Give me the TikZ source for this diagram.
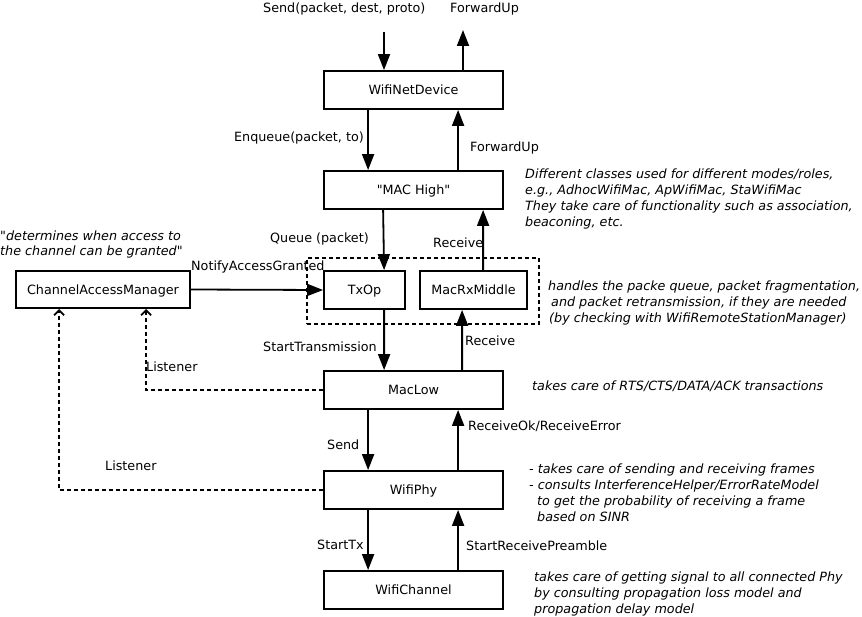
\documentclass[tikz,border=0pt]{standalone}
\usepackage{fontspec}
\setmainfont{DejaVu Sans}
\usetikzlibrary{arrows.meta,calc}
\begin{document}
\begin{tikzpicture}[x=1bp,y=-1bp,
  font=\fontsize{12.8}{16}\selectfont,
  box/.style={draw, line width=1.8bp, rectangle, inner sep=0pt, minimum height=38bp, text height=9.3bp, text depth=0pt},
  lbl/.style={inner sep=0pt, text height=9.3bp, text depth=0pt},
  note/.style={inner sep=0pt, align=left, font=\fontsize{12.8}{16}\selectfont\itshape, anchor=north west},
  arr/.style={line width=1.8bp, -{Triangle[length=16bp,width=12bp]}},
  lis/.style={line width=1.8bp, dash pattern=on 4bp off 3bp, -{Straight Barb[length=5bp,width=10bp,line width=1.8bp]}},
  grpbox/.style={draw, line width=1.8bp, dash pattern=on 4bp off 3bp, inner sep=0pt},
]
\useasboundingbox (0,0) rectangle (862,617);

% boxes
\node[box, minimum width=179bp] (wnd) at (413.5,90) {WifiNetDevice};
\node[box, minimum width=179bp] (mach) at (413.5,190) {\textquotedbl MAC High\textquotedbl};
\node[grpbox, minimum width=232bp, minimum height=66bp] (grp) at (423,291) {};
\node[box, minimum width=81bp] (txop) at (364.5,290) {TxOp};
\node[box, minimum width=107bp] (rxm) at (473.5,290) {MacRxMiddle};
\node[box, minimum width=174bp, minimum height=37bp] (cam) at (103,289.5) {ChannelAccessManager};
\node[box, minimum width=179bp] (low) at (413.5,390) {MacLow};
\node[box, minimum width=179bp] (phy) at (413.5,490) {WifiPhy};
\node[box, minimum width=179bp] (chan) at (413.5,590) {WifiChannel};

% free ends
\coordinate (sendtop) at (384,32);
\coordinate (fwdtop) at (463,30);

% connectors
\draw[arr] (sendtop) -- (sendtop |- wnd.north);
\draw[arr] (fwdtop |- wnd.north) -- (fwdtop);
\draw[arr] ($(wnd.south west)+(45,0)$) -- ($(mach.north west)+(45,0)$);
\draw[arr] ($(mach.north west)+(135,0)$) -- ($(wnd.south west)+(135,0)$);
\draw[arr] ($(mach.south west)+(60,0)$) -- ($(txop.north west)+(61,0)$);
\draw[arr] ($(rxm.north west)+(64,0)$) -- ($(mach.south west)+(160,0)$);
\draw[arr] (cam.east) -- (txop.west);
\draw[arr] ($(txop.south west)+(61,0)$) -- ($(low.north west)+(61,0)$);
\draw[arr] ($(low.north west)+(139,0)$) -- ($(rxm.south west)+(43,0)$);
\draw[arr] ($(low.south west)+(45,0)$) -- ($(phy.north west)+(45,0)$);
\draw[arr] ($(phy.north west)+(135,0)$) -- ($(low.south west)+(135,0)$);
\draw[arr] ($(phy.south west)+(45,0)$) -- ($(chan.north west)+(45,0)$);
\draw[arr] ($(chan.north west)+(135,0)$) -- ($(phy.south west)+(135,0)$);
\draw[lis] (low.west) -| ($(cam.south west)+(131,0)$);
\draw[lis] (phy.west) -| ($(cam.south west)+(44,0)$);

% labels
\node[lbl, anchor=west] (lsend) at (263,8) {Send(packet, dest, proto)};
\node[lbl, anchor=west] (lfwd1) at (450,8) {ForwardUp};
\node[lbl, anchor=east] (lenq) at (364,137) {Enqueue(packet, to)};
\node[lbl, anchor=west] (lfwd2) at (470,147) {ForwardUp};
\node[lbl, anchor=west] (lqueue) at (270,238) {Queue (packet)};
\node[lbl, anchor=west] (lrec1) at (433,243) {Receive};
\node[lbl, anchor=west] (lnag) at (191,266) {NotifyAccessGranted};
\node[lbl, anchor=west] (lstx) at (263,347) {StartTransmission};
\node[lbl, anchor=west] (lrec2) at (465,341) {Receive};
\node[lbl, anchor=west] (llis1) at (146,367) {Listener};
\node[lbl, anchor=west] (lsnd) at (327,445) {Send};
\node[lbl, anchor=west] (lrok) at (468,426) {ReceiveOk/ReceiveError};
\node[lbl, anchor=west] (llis2) at (105,466) {Listener};
\node[lbl, anchor=west] (lstart) at (317,545) {StartTx};
\node[lbl, anchor=west] (lsrp) at (466,546) {StartReceivePreamble};

% notes
\node[note, font=\fontsize{12.8}{15}\selectfont\itshape] (ncam) at (0,231) {\textquotedbl determines when access to\\the channel can be granted\textquotedbl};
\node[note] (nmac) at (525,169) {Different classes used for different modes/roles,\\e.g., AdhocWifiMac, ApWifiMac, StaWifiMac\\They take care of functionality such as association,\\beaconing, etc.};
\node[note] (ngrp) at (548,281) {handles the packe queue, packet fragmentation,\\\hspace*{3bp}and packet retransmission, if they are needed\\\hspace*{1bp}(by checking with WifiRemoteStationManager)};
\node[note] (nlow) at (532,381) {takes care of RTS/CTS/DATA/ACK transactions};
\node[note] (nphy) at (529,464) {- takes care of sending and receiving frames\\- consults InterferenceHelper/ErrorRateModel\\\hspace*{8bp}to get the probability of receiving a frame\\\hspace*{8bp}based on SINR};
\node[note] (nchan) at (534,572) {takes care of getting signal to all connected Phy\\by consulting propagation loss model and\\propagation delay model};
\end{tikzpicture}
\end{document}
